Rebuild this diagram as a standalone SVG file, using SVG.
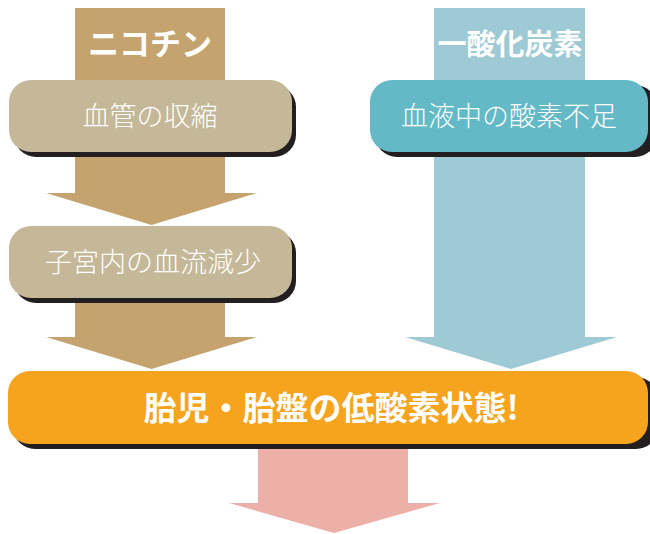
<svg xmlns="http://www.w3.org/2000/svg" width="650" height="534" viewBox="0 0 650 534">
<style>
.tan{fill:#C4A36E}
.blue{fill:#9ECAD6}
.pink{fill:#ECB0A8}
.shadow{fill:#231F20}
.head{font-family:"Noto Sans CJK JP","Noto Sans",sans-serif;font-weight:700;fill:#fff;text-anchor:middle}
.lbl{font-family:"Noto Sans CJK JP","Noto Sans",sans-serif;font-weight:300;fill:#fff;text-anchor:middle;font-size:27px}
.main{font-family:"Noto Sans CJK JP","Noto Sans",sans-serif;font-weight:700;fill:#fff;text-anchor:middle;font-size:33px}
</style>
<rect width="650" height="534" fill="#fff"/>
<g id="connectors">
<polygon class="tan" points="75,8 225,8 225,193 257,193 151.5,225 46,193 75,193"/>
<polygon class="tan" points="75,290 225,290 225,337 257,337 151.5,369 46,337 75,337"/>
<polygon class="blue" points="434,8 585,8 585,337 617,337 511,369 405,337 434,337"/>
<polygon class="pink" points="258,445 408,445 408,503 440,503 334,533 229,503 258,503"/>
</g>
<g id="label-nicotine"><text class="head" x="150" y="55" font-size="31">ニコチン</text></g>
<g id="label-co"><text class="head" x="510" y="55" font-size="29">一酸化炭素</text></g>
<g id="node-vasoconstriction">
<rect class="shadow" x="14" y="85" width="282" height="72" rx="22"/>
<rect x="9" y="80" width="283" height="72" rx="22" fill="#C4B898"/>
<text class="lbl" x="150" y="126">血管の収縮</text>
</g>
<g id="node-bloodflow">
<rect class="shadow" x="14" y="231" width="282" height="72" rx="22"/>
<rect x="9" y="226" width="283" height="72" rx="22" fill="#C4B898"/>
<text class="lbl" x="153" y="272">子宮内の血流減少</text>
</g>
<g id="node-oxygen">
<rect class="shadow" x="375" y="85" width="282" height="72" rx="22"/>
<rect x="370" y="80" width="278" height="72" rx="22" fill="#63B9C6"/>
<text class="lbl" x="509" y="126">血液中の酸素不足</text>
</g>
<g id="node-hypoxia">
<rect class="shadow" x="13" y="377" width="645" height="72" rx="22"/>
<rect x="8" y="371" width="640" height="73" rx="22" fill="#F6A41E"/>
<text class="main" x="331" y="420">胎児・胎盤の低酸素状態!</text>
</g>
</svg>
